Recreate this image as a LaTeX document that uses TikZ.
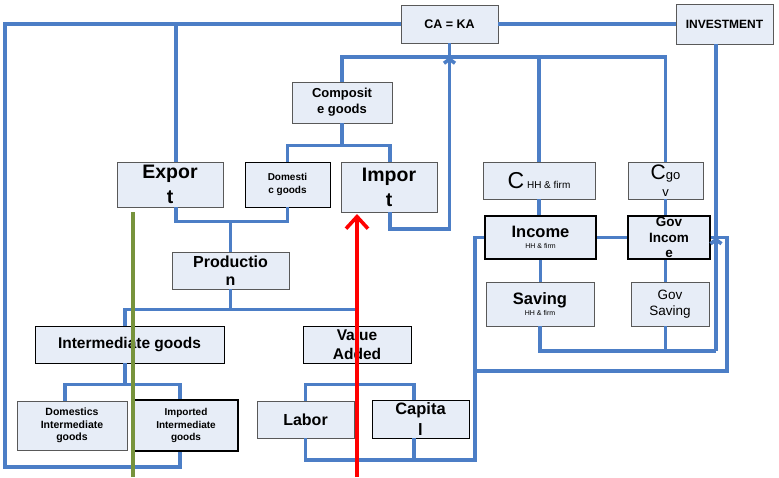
\documentclass[tikz,border=0pt]{standalone}
\usepackage{fontspec}
\setmainfont{Liberation Sans}
\usetikzlibrary{arrows.meta,calc}
\definecolor{boxfill}{HTML}{E7EDF7}
\definecolor{flowblue}{HTML}{4C7EC6}
\definecolor{olivegreen}{HTML}{77933C}
\newcommand{\fsz}[2]{\fontsize{#1}{#2}\selectfont}

\begin{document}
\begin{tikzpicture}[x=1pt, y=-1pt,
    box/.style={draw=black!65, fill=boxfill, line width=0.9pt, inner sep=0pt, align=center},
    heavy/.style={box, draw=black, line width=2pt},
    link/.style={draw=flowblue, line width=3.6pt},
    tip/.style={-{Straight Barb[length=4pt,width=11pt]}}]
    \useasboundingbox (0,0) rectangle (779,477);

    \node[box, minimum width=97, minimum height=38, font=\bfseries\fsz{12.5}{15}] (cakA) at (449.5,24) {CA = KA};
    \node[box, minimum width=97, minimum height=40, font=\bfseries\fsz{12}{15}] (invest) at (724.5,24) {INVESTMENT};
    \node[box, minimum width=100, minimum height=41, font=\bfseries\fsz{13}{16}] (compos) at (342,102.5) {Composit\\e goods};
    \node[box, minimum width=106, minimum height=45, font=\bfseries\fsz{19.5}{25}] (export) at (170,184.5) {Expor\\t};
    \node[box, draw=black, minimum width=85, minimum height=45, font=\bfseries\fsz{10}{13}] (domest) at (287.5,184.5) {Domesti\\c goods};
    \node[box, minimum width=96, minimum height=50, font=\bfseries\fsz{19.5}{25}] (import) at (389,187) {Impor\\t};
    \node[box, minimum width=112, minimum height=37, font=\fsz{10}{12}] (chh) at (539,180.5) {{\fsz{23}{25}C} HH \& firm};
    \node[box, minimum width=75, minimum height=37, font=\fsz{13}{17}] (cgov) at (665.5,180.5) {{\fsz{21}{17}C}go\\v};
    \node[heavy, minimum width=111, minimum height=43, font=\bfseries\fsz{16.5}{11}] (income) at (540.5,237.5) {Income\\{\mdseries\fsz{7}{11}HH \& firm}};
    \node[heavy, minimum width=82, minimum height=43, font=\bfseries\fsz{13.5}{15.5}] (govinc) at (669,237.5) {Gov\\Incom\\e};
    \node[box, minimum width=108, minimum height=44, font=\bfseries\fsz{16.5}{11}] (saving) at (540,304) {Saving\\{\mdseries\fsz{7}{11}HH \& firm}};
    \node[box, minimum width=78, minimum height=44, font=\fsz{13.5}{16}] (govsav) at (670,304) {Gov\\Saving};
    \node[box, minimum width=117, minimum height=37, font=\bfseries\fsz{16}{18}] (prod) at (230.5,270.5) {Productio\\n};
    \node[box, draw=black, minimum width=189, minimum height=37, font=\bfseries\fsz{15.5}{18}] (inter) at (129.5,344.5) {Intermediate goods};
    \node[box, draw=black, minimum width=108, minimum height=37, font=\bfseries\fsz{15.5}{19.5}] (valadd) at (357,344.5) {Value\\Added};
    \node[box, minimum width=110, minimum height=49, font=\bfseries\fsz{10.5}{12.5}] (domint) at (72,425.5) {Domestics\\Intermediate\\goods};
    \node[heavy, minimum width=104, minimum height=51, font=\bfseries\fsz{10}{12.5}] (impint) at (186,425.5) {Imported\\Intermediate\\goods};
    \node[box, minimum width=97, minimum height=37, font=\bfseries\fsz{16}{18}] (labor) at (305.5,419.5) {Labor};
    \node[box, draw=black, minimum width=97, minimum height=38, font=\bfseries\fsz{16.5}{21}] (capital) at (420.5,419) {Capita\\l};

    \coordinate (loopL) at (5,467);
    \coordinate (topJ) at (449.5,57);
    \coordinate (impJ) at (449.5,229);
    \coordinate (savR) at (716,351);
    \coordinate (loopR) at (727,371);
    \coordinate (loopM) at (475,371);
    \coordinate (loopB) at (475,460);
    \coordinate (grnT) at (133,212);
    \coordinate (grnB) at (133,477);
    \coordinate (redT) at (357,214);
    \coordinate (redB) at (357,477);

    \draw[link] ([xshift=-6]impint.south) |- (loopL) |- (cakA.west);
    \draw[link] ([xshift=6]export.north) |- (cakA.west);
    \draw[link] (cakA.east) -- (invest.west);
    \draw[link] (invest.south -| savR) -- (savR);
    \draw[link] (saving.south) |- (savR);
    \draw[link] (govsav.south -| cgov.south) -- (cgov.south |- savR);
    \draw[link, tip] (savR) -- (savR |- govinc.east);
    \draw[link] (govinc.east) -| (loopR) -| (loopB) -| (labor.south);
    \draw[link] (income.west) -| (loopM);
    \draw[link] ([xshift=-6.5]capital.south) -- ([xshift=-6.5]capital.south |- loopB);
    \draw[link] (compos.north) |- (topJ) -| (cgov.north);
    \draw[link] (chh.north) -- (chh.north |- topJ);
    \draw[link] (topJ) -- (cakA.south);
    \draw[link, tip] ([xshift=1]import.south) |- (impJ) -- (topJ);
    \draw[link] (compos.south) -- ++(0,23);
    \draw[link] (domest.north) -- ++(0,-16) -| ([xshift=1]import.north);
    \draw[link] ([xshift=6]export.south) -- ++(0,14) -| (domest.south);
    \draw[link] (prod.north) -- ++(0,-31);
    \draw[link] (prod.south) -- ++(0,21);
    \draw[link] ([xshift=-4.5]inter.north) -- ++(0,-16) -| (valadd.north);
    \draw[link] ([xshift=-4.5]inter.south) -- ++(0,22);
    \draw[link] ([xshift=-7]domint.north) -- ++(0,-16) -| ([xshift=-6]impint.north);
    \draw[link] (valadd.south) -- ++(0,22);
    \draw[link] (labor.north) -- ++(0,-16) -| ([xshift=-6.5]capital.north);
    \draw[link] (chh.south) -- (chh.south |- income.north);
    \draw[link] (income.south) -- (income.south |- saving.north);
    \draw[link] (income.east) -- (govinc.west);
    \draw[link] (cgov.south) -- (cgov.south |- govinc.north);
    \draw[link] (govinc.south -| cgov.south) -- (cgov.south |- govsav.north);
    \draw[olivegreen, line width=3.6pt] (grnT) -- (grnB);
    \draw[red, line width=3.6pt, -{Straight Barb[length=12pt,width=22pt]}] (redB) -- (redT);
\end{tikzpicture}
\end{document}
